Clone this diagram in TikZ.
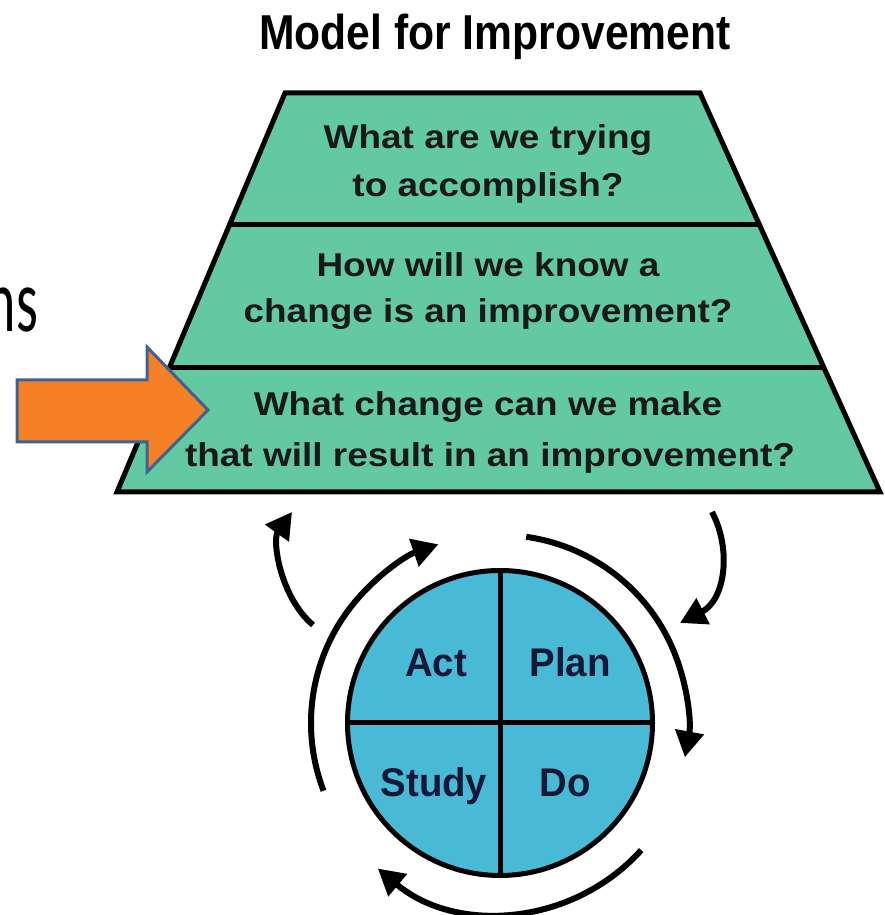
\documentclass[tikz,border=0pt]{standalone}
\usepackage{fontspec}
\setmainfont{Liberation Sans}
\newfontfamily\nsfont{Carlito}
\usetikzlibrary{arrows.meta,calc}
\definecolor{trapgreen}{RGB}{99,201,163}
\definecolor{pdsablue}{RGB}{72,186,214}
\definecolor{arroworange}{RGB}{245,128,37}
\definecolor{arrowblue}{RGB}{65,98,143}
\definecolor{labelnavy}{RGB}{20,25,55}
\begin{document}
\begin{tikzpicture}[x=1pt,y=1pt,
  qtext/.style={font=\fontsize{33}{33}\selectfont\bfseries, xscale=1.12, inner sep=0, anchor=base, text=black!90},
  ctext/.style={font=\fontsize{40}{40}\selectfont\bfseries, xscale=0.96, inner sep=0, anchor=base, text=labelnavy},
  outline/.style={line width=5pt, line join=miter},
  cyc/.style={line width=6pt, -{Triangle[length=26pt,width=28pt]}}]
\useasboundingbox (0,0) rectangle (885,915);
\fill[white] (0,0) rectangle (885,915);

% title
\node[font=\fontsize{49}{49}\selectfont\bfseries, xscale=0.87, inner sep=0, anchor=base] (title) at (495,865) {Model for Improvement};

% partial word at left
\node[font=\nsfont\fontsize{90}{90}\selectfont, xscale=0.62, inner sep=0, anchor=base east] (ns) at (38,583) {ns};

% trapezoid
\fill[trapgreen] (285,822) -- (700,822) -- (880,423) -- (117,423) -- cycle;
\draw[outline] (285,822) -- (700,822) -- (880,423) -- (117,423) -- cycle;
\draw[outline] (229,690) -- (760,690);
\draw[outline] (169,547) -- (824,547);

\node[qtext] (q1a) at (488,766) {What are we trying};
\node[qtext] (q1b) at (488,718) {to accomplish?};
\node[qtext] (q2a) at (488,638) {How will we know a};
\node[qtext] (q2b) at (488,592) {change is an improvement?};
\node[qtext] (q3a) at (488,499) {What change can we make};
\node[qtext] (q3b) at (490,448) {that will result in an improvement?};

% orange arrow
\draw[fill=arroworange, draw=arrowblue, line width=3pt, line join=miter]
  (17,535) -- (147,535) -- (147,568) -- (208,505) -- (147,443) -- (147,473) -- (17,473) -- cycle;

% PDSA circle
\node[circle, draw, line width=5pt, fill=pdsablue, minimum size=305pt, inner sep=0] (pdsa) at (500,192) {};
\draw[line width=5pt] (pdsa.north) -- (pdsa.south);
\draw[line width=5pt] (pdsa.west) -- (pdsa.east);
\node[ctext] (act) at (436,238) {Act};
\node[ctext] (plan) at (570,238) {Plan};
\node[ctext] (study) at (434,118) {Study};
\node[ctext] (do) at (565,118) {Do};

% cycle arrows
\draw[cyc] ($(pdsa.center)+(201:189pt)$) arc[start angle=201, end angle=109, radius=189pt];
\draw[cyc] ($(pdsa.center)+(82:188pt)$) arc[start angle=82, end angle=-10.5, radius=188pt];
\draw[cyc] ($(pdsa.center)+(-42:190pt)$) arc[start angle=-42, end angle=-130, radius=190pt];

% arrows to and from the trapezoid
\coordinate (tlS) at (313,290);
\coordinate (tlE) at (292,403);
\coordinate (trS) at (712,403);
\coordinate (trE) at (680,292);
\draw[cyc] (tlS) .. controls (280,318) and (272,375) .. (tlE);
\draw[cyc] (trS) .. controls (732,365) and (725,315) .. (trE);
\end{tikzpicture}
\end{document}
